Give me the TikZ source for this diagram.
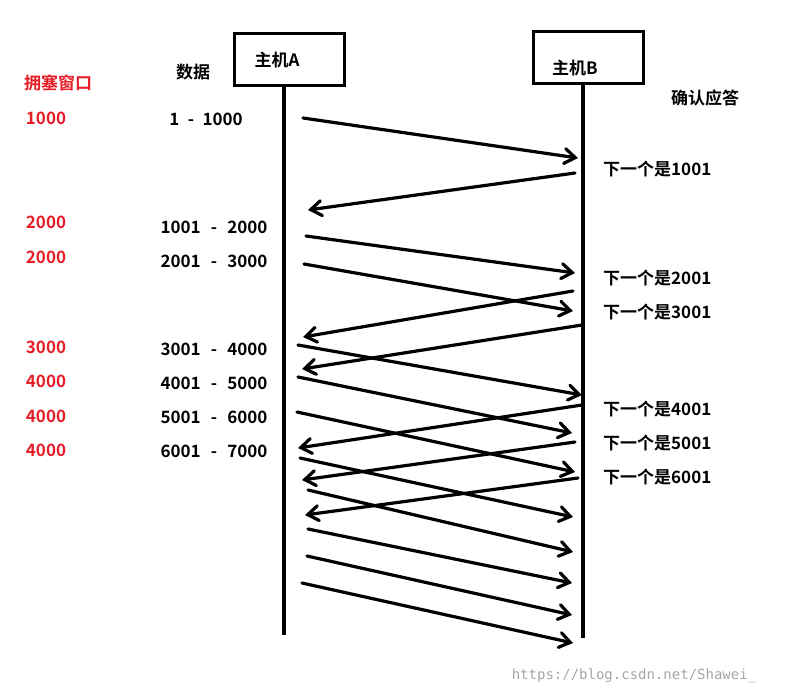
\documentclass[tikz,border=0pt]{standalone}
\usepackage{fontspec}
\setmainfont{Noto Sans CJK SC}[BoldFont={Noto Sans CJK SC Bold}]
\setmonofont{DejaVu Sans Mono}
\usetikzlibrary{arrows.meta}
\begin{document}
\begin{tikzpicture}[x=1pt,y=-1pt,
  lbl/.style={font=\fontsize{17}{19}\selectfont\bfseries,inner sep=0pt},
  red/.style={lbl,text={rgb,255:red,230;green,30;blue,40}},
  host/.style={draw,line width=3pt,minimum width=110pt,minimum height=52pt,inner sep=0pt},
  life/.style={line width=3.5pt},
  msg/.style={line width=3.2pt,line cap=round,-{Straight Barb[angle=70:13pt,line cap=round]}}]
\useasboundingbox (0,0) rectangle (789,694);
\node[host] (ha) at (289,59) {};
\node[host] (hb) at (588,57) {};
\node[lbl] at (277,60) {主机A};
\node[lbl] at (575,68) {主机B};
\coordinate (a0) at (284,84); \coordinate (a1) at (284,635);
\coordinate (b0) at (583,84); \coordinate (b1) at (583,638);
\draw[life] (a0) -- (a1);
\draw[life] (b0) -- (b1);
\node[red] at (58,83) {拥塞窗口};
\foreach \t/\y in {1000/118,2000/222,2000/257,3000/347,4000/381,4000/416,4000/450}
  \node[red] at (46,\y) {\t};
\node[lbl] at (193,72) {数据};
\node[lbl] at (705,98) {确认应答};
\node[lbl] at (206,119) {1\hspace{0.5em}-\hspace{0.5em}1000};
\foreach \a/\b/\y in {1001/2000/227,2001/3000/261,3001/4000/349,4001/5000/383,5001/6000/417,6001/7000/451}
  \node[lbl] at (214,\y) {\a\hspace{0.6em}-\hspace{0.6em}\b};
\foreach \t/\y in {1001/169,2001/278,3001/312,4001/409,5001/443,6001/477}
  \node[lbl,anchor=west] at (603,\y) {下一个是\t};
\foreach \sx/\sy/\ex/\ey [count=\i] in {
 303/118/578/158, 575/173/308/210, 306/236/575/273, 304/264/573/311,
 573/291/303/337, 582/325/302/369, 298/345/582/395, 298/377/572/433,
 582/405/298/448, 297/412/575/472, 575/442/302/480, 300/458/573/517,
 578/478/305/515, 308/490/573/552, 308/529/572/583, 307/556/572/615,
 302/583/573/643} {
  \coordinate (s\i) at (\sx,\sy); \coordinate (e\i) at (\ex,\ey);
  \draw[msg] (s\i) -- (e\i);
}
\node[font=\ttfamily\fontsize{14}{16}\selectfont,text=gray!70,inner sep=0pt] at (634,676) {https://blog.csdn.net/Shawei\_};
\end{tikzpicture}
\end{document}
